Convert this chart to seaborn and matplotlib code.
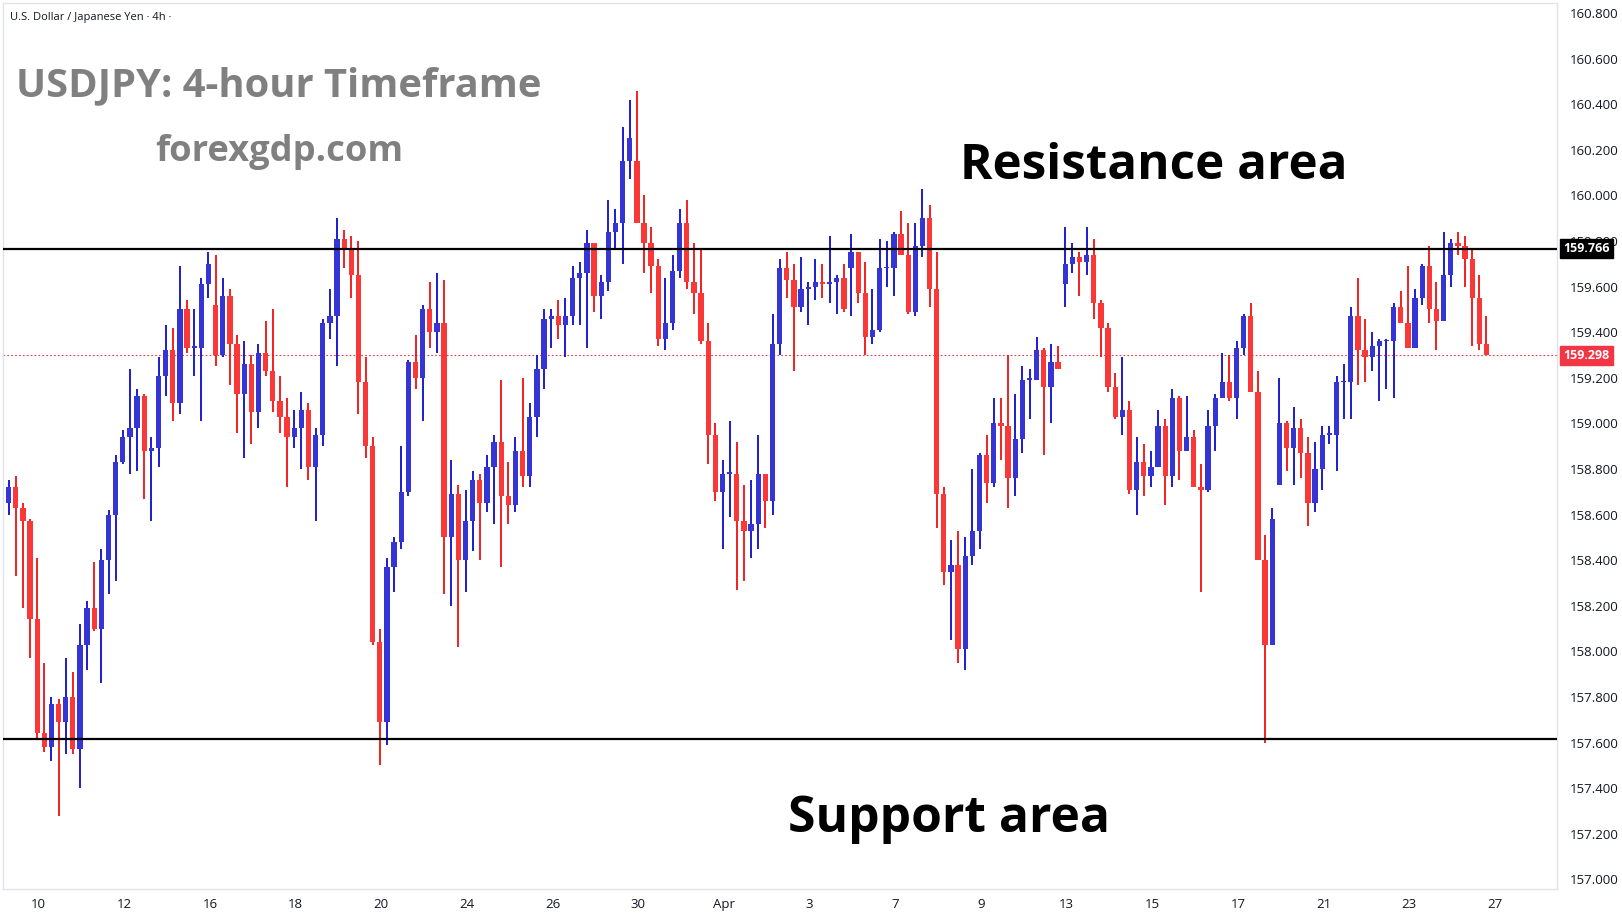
import numpy as np
import matplotlib
matplotlib.use("Agg")
import matplotlib.pyplot as plt
import matplotlib.transforms as mtransforms
import seaborn as sns

# USDJPY 4h candles (open, high, low, close)
opens = [158.65, 158.72, 158.63, 158.57, 158.14, 157.64, 157.58, 157.77, 157.69, 157.80,
         157.57, 158.03, 158.19, 158.10, 158.40, 158.60, 158.83, 158.94, 158.98, 159.12,
         158.88, 158.89, 159.21, 159.32, 159.09, 159.50, 159.33, 159.33, 159.61, 159.52,
         159.30, 159.56, 159.35, 159.13, 159.26, 159.05, 159.31, 159.23, 159.10, 159.03,
         158.94, 158.98, 159.06, 158.81, 158.95, 159.44, 159.47, 159.81, 159.77, 159.65,
         159.18, 158.90, 158.04, 157.69, 158.37, 158.48, 158.70, 159.27, 159.20, 159.50,
         159.40, 159.44, 158.50, 158.69, 158.40, 158.57, 158.75, 158.65, 158.81, 158.92,
         158.68, 158.64, 158.88, 158.77, 159.03, 159.24, 159.46, 159.47, 159.43, 159.47,
         159.64, 159.66, 159.79, 159.56, 159.62, 159.84, 159.88, 160.15, 160.15, 159.88,
         159.79, 159.69, 159.37, 159.44, 159.67, 159.88, 159.62, 159.57, 159.36, 158.95,
         158.70, 158.78, 158.78, 158.57, 158.53, 158.56, 158.78, 158.66, 159.35, 159.68,
         159.63, 159.51, 159.59, 159.60, 159.62, 159.61, 159.62, 159.64, 159.68, 159.75,
         159.57, 159.38, 159.41, 159.68, 159.68, 159.83, 159.74, 159.49, 159.78, 159.90,
         159.59, 158.69, 158.35, 158.38, 158.01, 158.42, 158.53, 158.86, 158.74, 159.00,
         158.99, 158.76, 158.93, 159.19, 159.19, 159.32, 159.16, 159.27, 159.61, 159.70,
         159.73, 159.71, 159.74, 159.53, 159.42, 159.16, 159.03, 159.06, 158.71, 158.83,
         158.77, 158.81, 158.99, 158.77, 159.11, 158.88, 158.94, 158.72, 158.71, 158.99,
         159.11, 159.18, 159.11, 159.33, 159.47, 159.14, 158.40, 158.03, 158.73, 159.00,
         158.89, 158.98, 158.87, 158.65, 158.80, 158.95, 158.95, 159.18, 159.18, 159.47,
         159.32, 159.29, 159.34, 159.36, 159.36, 159.51, 159.44, 159.33, 159.55, 159.69,
         159.50, 159.45, 159.65, 159.79, 159.78, 159.72, 159.55, 159.35]
highs = [158.75, 158.77, 158.65, 158.58, 158.41, 157.95, 157.80, 157.79, 157.97, 157.91,
         158.12, 158.22, 158.39, 158.45, 158.62, 158.86, 158.97, 159.24, 159.15, 159.13,
         158.94, 159.29, 159.43, 159.42, 159.69, 159.54, 159.50, 159.64, 159.75, 159.74,
         159.64, 159.59, 159.39, 159.36, 159.30, 159.35, 159.45, 159.50, 159.21, 159.11,
         159.06, 159.14, 159.09, 158.98, 159.46, 159.59, 159.90, 159.85, 159.82, 159.80,
         159.29, 158.94, 158.10, 158.41, 158.50, 158.90, 159.28, 159.39, 159.52, 159.62,
         159.66, 159.63, 158.84, 158.73, 158.71, 158.79, 158.78, 158.86, 158.95, 159.19,
         158.83, 158.94, 159.20, 159.09, 159.30, 159.50, 159.50, 159.54, 159.55, 159.69,
         159.71, 159.85, 159.79, 159.65, 159.98, 159.94, 160.30, 160.42, 160.46, 160.00,
         159.86, 159.72, 159.64, 159.74, 159.94, 159.98, 159.79, 159.77, 159.44, 159.00,
         158.84, 159.01, 158.92, 158.73, 158.75, 158.95, 158.78, 159.48, 159.72, 159.75,
         159.70, 159.73, 159.62, 159.72, 159.70, 159.82, 159.65, 159.70, 159.83, 159.75,
         159.71, 159.59, 159.81, 159.80, 159.84, 159.93, 159.88, 159.88, 160.03, 159.96,
         159.75, 158.72, 158.49, 158.53, 158.50, 158.80, 158.87, 158.95, 159.11, 159.11,
         159.30, 159.13, 159.25, 159.24, 159.38, 159.33, 159.35, 159.34, 159.86, 159.79,
         159.75, 159.86, 159.81, 159.54, 159.44, 159.22, 159.29, 159.10, 158.94, 158.91,
         158.88, 159.06, 159.02, 159.15, 159.12, 159.12, 158.97, 158.82, 159.06, 159.13,
         159.31, 159.30, 159.36, 159.48, 159.53, 159.23, 158.51, 158.63, 159.20, 159.01,
         159.07, 159.02, 158.94, 158.92, 158.99, 158.99, 159.21, 159.26, 159.51, 159.64,
         159.46, 159.40, 159.37, 159.37, 159.53, 159.58, 159.69, 159.59, 159.70, 159.78,
         159.62, 159.84, 159.81, 159.84, 159.82, 159.77, 159.65, 159.47]
lows = [158.60, 158.33, 158.19, 157.97, 157.62, 157.56, 157.52, 157.28, 157.55, 157.55,
        157.40, 157.92, 158.09, 157.86, 158.25, 158.31, 158.82, 158.78, 158.79, 158.67,
        158.57, 158.81, 159.12, 159.01, 159.04, 159.31, 159.21, 159.01, 159.55, 159.25,
        159.29, 159.17, 158.96, 158.85, 158.91, 158.98, 159.21, 159.05, 158.96, 158.72,
        158.89, 158.80, 158.75, 158.57, 158.90, 159.37, 159.25, 159.68, 159.55, 159.04,
        158.85, 158.03, 157.50, 157.59, 158.26, 158.45, 158.68, 159.15, 159.01, 159.33,
        159.31, 158.25, 158.20, 158.02, 158.26, 158.44, 158.40, 158.61, 158.56, 158.37,
        158.56, 158.61, 158.72, 158.72, 158.94, 159.15, 159.33, 159.37, 159.29, 159.43,
        159.43, 159.33, 159.49, 159.46, 159.58, 159.77, 159.70, 160.07, 159.88, 159.66,
        159.57, 159.34, 159.32, 159.41, 159.64, 159.59, 159.48, 159.35, 158.82, 158.66,
        158.45, 158.59, 158.27, 158.31, 158.41, 158.45, 158.54, 158.60, 159.30, 159.55,
        159.23, 159.49, 159.43, 159.54, 159.55, 159.53, 159.48, 159.49, 159.47, 159.53,
        159.30, 159.35, 159.40, 159.60, 159.56, 159.74, 159.48, 159.47, 159.73, 159.51,
        158.54, 158.29, 158.05, 157.95, 157.92, 158.38, 158.45, 158.65, 158.72, 158.84,
        158.63, 158.68, 158.87, 159.02, 159.19, 158.86, 159.00, 159.24, 159.51, 159.66,
        159.56, 159.65, 159.46, 159.29, 159.14, 159.02, 158.95, 158.69, 158.60, 158.68,
        158.72, 158.81, 158.64, 158.72, 158.75, 158.88, 158.72, 158.26, 158.70, 158.88,
        159.11, 159.10, 159.02, 159.30, 159.14, 158.40, 157.60, 158.03, 158.73, 158.79,
        158.73, 158.76, 158.55, 158.61, 158.71, 158.91, 158.79, 159.02, 159.02, 159.17,
        159.18, 159.23, 159.10, 159.15, 159.11, 159.44, 159.33, 159.33, 159.52, 159.44,
        159.32, 159.45, 159.60, 159.74, 159.60, 159.34, 159.32, 159.30]
closes = [158.72, 158.63, 158.57, 158.14, 157.64, 157.58, 157.77, 157.69, 157.80, 157.57,
          158.03, 158.19, 158.10, 158.40, 158.60, 158.83, 158.94, 158.98, 159.12, 158.88,
          158.89, 159.21, 159.32, 159.09, 159.50, 159.33, 159.33, 159.61, 159.70, 159.30,
          159.56, 159.35, 159.13, 159.26, 159.05, 159.31, 159.23, 159.10, 159.03, 158.94,
          158.98, 159.06, 158.81, 158.95, 159.44, 159.47, 159.81, 159.77, 159.65, 159.18,
          158.90, 158.04, 157.69, 158.37, 158.48, 158.70, 159.27, 159.20, 159.50, 159.40,
          159.44, 158.50, 158.69, 158.40, 158.57, 158.75, 158.65, 158.81, 158.92, 158.68,
          158.64, 158.88, 158.77, 159.03, 159.24, 159.46, 159.47, 159.43, 159.47, 159.64,
          159.66, 159.79, 159.56, 159.62, 159.84, 159.88, 160.15, 160.25, 159.88, 159.79,
          159.69, 159.37, 159.44, 159.67, 159.88, 159.62, 159.57, 159.36, 158.95, 158.70,
          158.78, 158.78, 158.57, 158.53, 158.56, 158.78, 158.66, 159.35, 159.68, 159.63,
          159.51, 159.59, 159.60, 159.62, 159.61, 159.62, 159.64, 159.50, 159.75, 159.57,
          159.38, 159.41, 159.68, 159.68, 159.83, 159.74, 159.49, 159.78, 159.90, 159.59,
          158.69, 158.35, 158.38, 158.01, 158.42, 158.53, 158.86, 158.74, 159.00, 158.99,
          158.76, 158.93, 159.19, 159.19, 159.32, 159.16, 159.27, 159.24, 159.70, 159.73,
          159.71, 159.74, 159.53, 159.42, 159.16, 159.03, 159.06, 158.71, 158.83, 158.77,
          158.81, 158.99, 158.77, 159.11, 158.88, 158.94, 158.72, 158.71, 158.99, 159.11,
          159.18, 159.11, 159.33, 159.47, 159.14, 158.40, 158.03, 158.58, 159.00, 158.89,
          158.98, 158.87, 158.65, 158.80, 158.95, 158.95, 159.18, 159.18, 159.47, 159.32,
          159.29, 159.34, 159.36, 159.36, 159.51, 159.44, 159.33, 159.55, 159.69, 159.50,
          159.45, 159.65, 159.79, 159.78, 159.72, 159.55, 159.35, 159.30]

date_labels = ["10", "12", "16", "18", "20", "24", "26", "30", "Apr", "3", "7", "9",
               "13", "15", "17", "21", "23", "27"]
date_pos = [4.2 + 12 * i for i in range(len(date_labels))]  # one label every 2 trading days

resistance = 159.766
support = 157.618
last_price = 159.298

sns.set_style("white")
plt.rcParams['font.family'] = ['Open Sans', 'DejaVu Sans']

UP_BODY, UP_WICK = "#3535d6", "#0b0bcc"
DN_BODY, DN_WICK = "#fb3838", "#f01010"

o = np.array(opens)
h = np.array(highs)
l = np.array(lows)
c = np.array(closes)
x = np.arange(len(o))
up = c >= o

fig = plt.figure(figsize=(16.22, 9.21), dpi=100)
ax = fig.add_axes([0.002, 0.035, 0.958, 0.962])

ax.vlines(x[up], l[up], h[up], color=UP_WICK, lw=1.3, zorder=2)
ax.vlines(x[~up], l[~up], h[~up], color=DN_WICK, lw=1.3, zorder=2)
body = np.maximum(np.abs(c - o), 0.008)
ax.bar(x[up], body[up], bottom=o[up], width=0.74, color=UP_BODY, linewidth=0, zorder=3)
ax.bar(x[~up], body[~up], bottom=np.minimum(o, c)[~up], width=0.74, color=DN_BODY,
       linewidth=0, zorder=3)

ax.axhline(resistance, color="black", lw=1.6, zorder=4)
ax.axhline(support, color="black", lw=1.6, zorder=4)
ax.axhline(last_price, color="#f23645", lw=0.8, ls=(0, (1.5, 2)), zorder=1)

ax.set_xlim(-0.75, 216.9)
ax.set_ylim(156.959, 160.845)

ax.yaxis.tick_right()
yt = np.round(np.arange(157.0, 160.81, 0.2), 1)
ax.set_yticks(yt)
ax.set_yticklabels([f"{v:.3f}" for v in yt], fontsize=9.5, color="#131722")
ax.set_xticks(date_pos)
ax.set_xticklabels(date_labels, fontsize=9.5, color="#131722")
ax.tick_params(axis="both", length=0, pad=7)
ax.tick_params(axis="y", pad=9)
for s in ax.spines.values():
    s.set_color("#e0e3eb")
    s.set_linewidth(1)

tr = mtransforms.blended_transform_factory(ax.transAxes, ax.transData)
for val, col in [(resistance, "black"), (last_price, "#f23645")]:
    ax.text(1.004, val, f"{val:.3f}", transform=tr, ha="left", va="center",
            fontsize=9, fontweight="bold", color="white", clip_on=False, zorder=10,
            bbox=dict(boxstyle="square,pad=0.25", fc=col, ec=col))

fig.text(0.0064, 0.981, "U.S. Dollar / Japanese Yen · 4h ·", fontsize=8, color="#131722", va="center")
fig.text(0.0096, 0.907, "USDJPY: 4-hour Timeframe", fontsize=28.7, fontweight="bold",
         color="#808080", va="center")
fig.text(0.0958, 0.835, "forexgdp.com", fontsize=26.2, fontweight="bold", color="#808080", va="center")
fig.text(0.592, 0.819, "Resistance area", fontsize=35.6, fontweight="bold", color="black", va="center")
fig.text(0.4856, 0.111, "Support area", fontsize=35.8, fontweight="bold", color="black", va="center")

fig.savefig("out.png", dpi=100, facecolor="white")
